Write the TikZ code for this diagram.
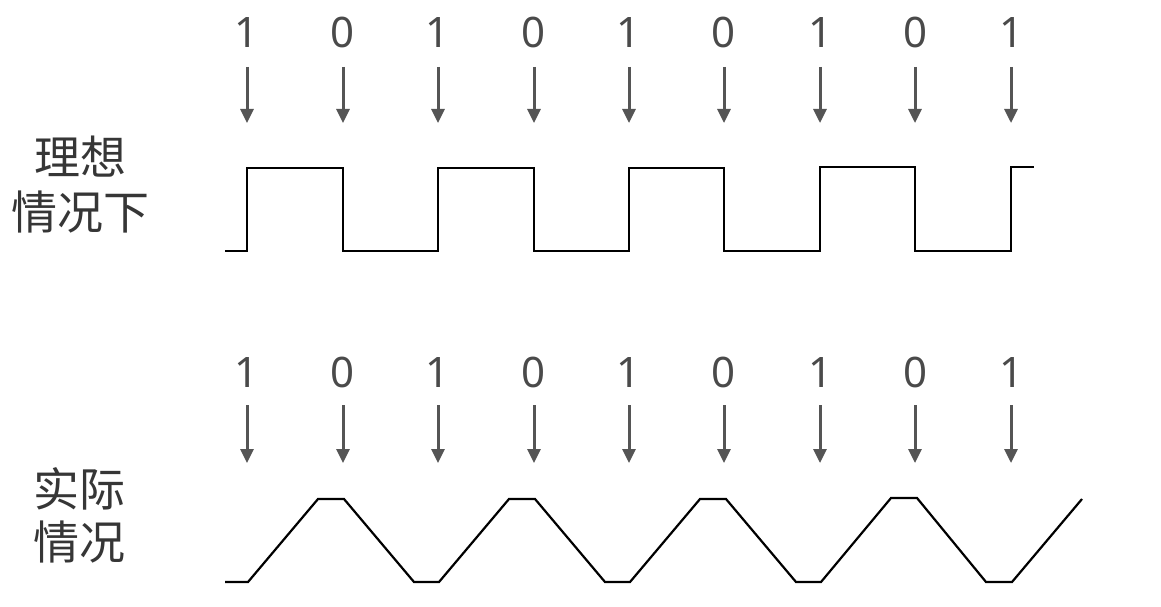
\documentclass[tikz,border=0pt]{standalone}
\usepackage{fontspec}
\setmainfont{Noto Sans}
\newfontfamily\cjk{Noto Sans CJK SC}
\usetikzlibrary{arrows.meta}
\definecolor{digitgray}{HTML}{4A4A4A}
\definecolor{labelgray}{HTML}{363636}
\definecolor{arrgray}{HTML}{555555}
\begin{document}
\begin{tikzpicture}[x=1pt,y=-1pt,
  digit/.style={anchor=base,inner sep=0pt,text=digitgray,font=\fontsize{42}{50}\selectfont},
  lab/.style={anchor=base,inner sep=0pt,text=labelgray,font=\cjk\fontsize{46}{54}\selectfont},
  bitarrow/.style={draw=arrgray,line width=3pt,-{Triangle[width=13pt,length=14pt]}},
  wave/.style={draw=black,line width=2.2pt}]
\useasboundingbox (0,0) rectangle (1161,607);
% labels
\node[lab] (l1) at (80,174.5) {理想};
\node[lab] (l2) at (80,229.5) {情况下};
\node[lab] (l3) at (79,506.5) {实际};
\node[lab] (l4) at (79,559.5) {情况};
% digits and arrows
\foreach \x/\b [count=\i] in {247/1,343/0,438/1,534/0,629/1,724/0,820/1,915/0,1011/1}{
  \node[digit] (td\i) at (\x,48) {\b};
  \coordinate (tas\i) at (\x,67);
  \coordinate (tae\i) at (\x,123);
  \draw[bitarrow] (tas\i) -- (tae\i);
  \node[digit] (bd\i) at (\x,387) {\b};
  \coordinate (bas\i) at (\x,405);
  \coordinate (bae\i) at (\x,463);
  \draw[bitarrow] (bas\i) -- (bae\i);
}
% ideal square wave
\draw[wave] (225,251) -- (247,251) -- (247,168) -- (343,168) -- (343,251) -- (438,251) -- (438,168) -- (534,168) -- (534,251) -- (629,251) -- (629,168) -- (724,168) -- (724,251) -- (820,251) -- (820,167) -- (915,167) -- (915,251) -- (1011,251) -- (1011,167) -- (1034,167);
% actual trapezoid wave
\draw[wave] (225,582) -- (248,582) -- (318,499) -- (344,499) -- (414,582) -- (439,582) -- (509,499) -- (535,499) -- (605,582) -- (630,582) -- (700,499) -- (726,499) -- (796,582) -- (821,582) -- (891,498) -- (917,498) -- (986,582) -- (1012,582) -- (1082,499);
\end{tikzpicture}
\end{document}
